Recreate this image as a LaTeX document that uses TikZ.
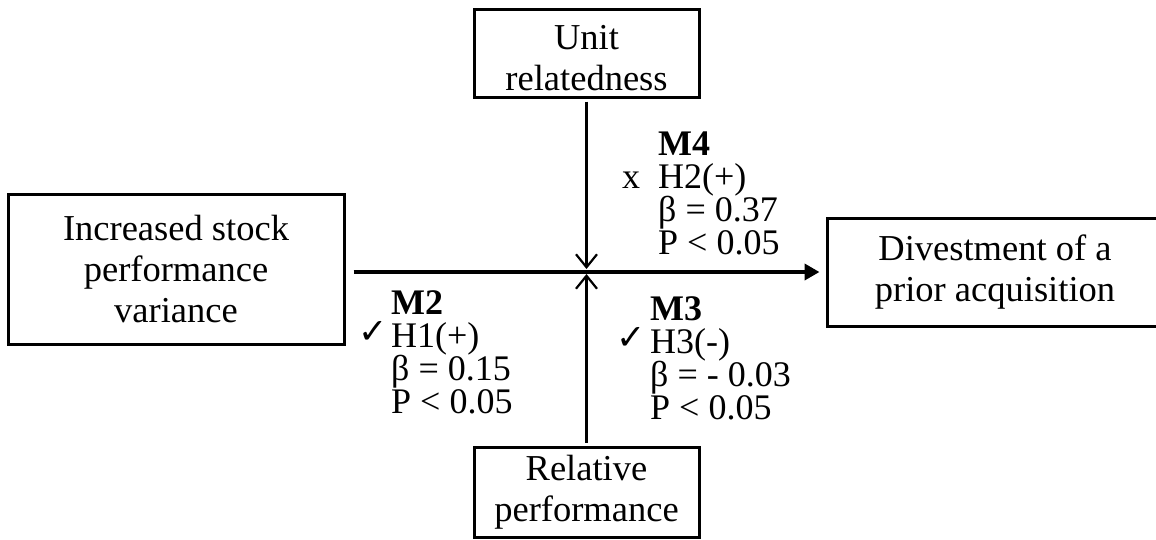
\documentclass[tikz,border=0pt]{standalone}
\usepackage{fontspec}
\setmainfont{Liberation Serif}
\newfontfamily\symfont{DejaVu Sans}
\usetikzlibrary{arrows.meta}
\setlength{\lineskiplimit}{-40pt}
\begin{document}
\begin{tikzpicture}[x=1pt,y=-1pt,
  box/.style={draw, line width=3pt, inner sep=0pt, align=center,
    font=\fontsize{36.5}{41}\selectfont},
  lbl/.style={inner sep=0pt, anchor=base west, align=left,
    font=\fontsize{36}{32.7}\selectfont},
  mk/.style={inner sep=0pt, anchor=base west, font=\symfont\fontsize{35}{35}\selectfont},
  xm/.style={inner sep=0pt, anchor=base west, font=\fontsize{36}{32.7}\selectfont},
  mainarrow/.style={line width=3.8pt, -{Triangle[length=15pt,width=16pt]}},
  modarrow/.style={line width=2.2pt, -{Straight Barb[length=13pt,width=21pt]}}]
\useasboundingbox (0,0) rectangle (1156,539);

\node[box, minimum width=336pt, minimum height=150pt] (ind) at (176,269)
  {Increased stock\\performance\\variance};
\node[box, minimum width=225pt, minimum height=88pt] (unit) at (586.5,53)
  {\rule{0pt}{35pt}Unit\\relatedness};
\node[box, minimum width=225pt, minimum height=90pt] (rel) at (586.5,492)
  {Relative\\performance};
\node[box, minimum width=336pt, minimum height=108pt] (div) at (995,272)
  {Divestment of a\\prior acquisition};

\coordinate (cross) at (unit.south |- div.west);

\draw[mainarrow, shorten <=8pt, shorten >=6pt] (ind.east |- div.west) -- (div.west);
\draw[modarrow, shorten <=3pt, shorten >=3pt] (unit.south) -- (cross);
\draw[modarrow, shorten <=3pt, shorten >=2pt] (rel.north) -- (cross);

\node[lbl] (m2) at (391,413) {\textbf{M2}\\H1(+)\\β = 0.15\\P < 0.05};
\node[mk] (c2) at (358,343) {✓};
\node[lbl] (m4) at (658,254) {\textbf{M4}\\H2(+)\\β = 0.37\\P < 0.05};
\node[xm] (x4) at (622,188) {x};
\node[lbl] (m3) at (650,419) {\textbf{M3}\\H3(-)\\β = - 0.03\\P < 0.05};
\node[mk] (c3) at (616,349) {✓};
\end{tikzpicture}
\end{document}
